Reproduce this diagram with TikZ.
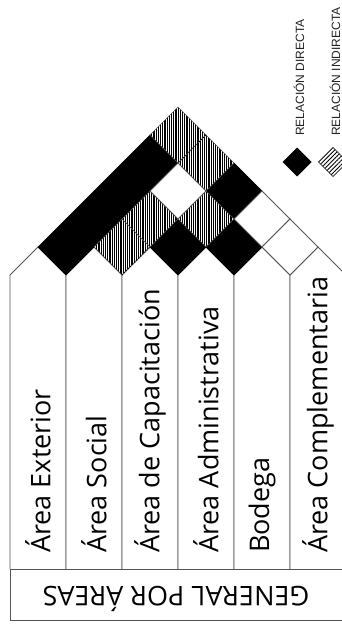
\documentclass[tikz,border=0pt]{standalone}
\usepackage{fontspec}
\setmainfont{Open Sans}
\newfontfamily\legendfont{Liberation Sans}
\usetikzlibrary{patterns.meta}
\definecolor{linegray}{HTML}{555555}
\definecolor{legendgray}{HTML}{222222}
\begin{document}
\begin{tikzpicture}[x=1pt,y=-1pt,
  outline/.style={draw=linegray,line width=0.9pt},
  cellB/.style={fill=black,draw=black,line width=0.6pt},
  cellH/.style={pattern={Lines[angle=90,distance=2.2pt,line width=1.1pt]},draw=linegray,line width=0.6pt},
  cellW/.style={fill=white,draw=linegray,line width=0.9pt},
  area/.style={font=\fontsize{27}{27}\selectfont,rotate=90,anchor=west,inner sep=0pt},
  legendtext/.style={font=\legendfont\fontsize{12}{12}\selectfont,text=legendgray,rotate=90,anchor=west,inner sep=0pt},
  dotline/.style={dotted,line width=0.9pt,black}]
\useasboundingbox (0,0) rectangle (342,629);
\clip (0,0) rectangle (342,629);
\fill[white] (0,0) rectangle (342,629);
% columns
\foreach \k in {1,...,6}{
  \pgfmathsetmacro\xl{10+56*(\k-1)}
  \pgfmathsetmacro\xc{\xl+28}
  \pgfmathsetmacro\xr{\xl+56}
  \path[outline,fill=white] (\xl,569) -- (\xl,275) -- (\xc,247) -- (\xr,275) -- (\xr,569);
}
% cells
\foreach \i/\j in {1/2,1/3,1/4,1/5,3/4,3/6,4/5}{
  \pgfmathsetmacro\cx{28*(\i+\j)-18}
  \pgfmathsetmacro\cy{247-28*(\j-\i-1)}
  \path[cellB] ({\cx-28},\cy) -- (\cx,{\cy-28}) -- ({\cx+28},\cy) -- (\cx,{\cy+28}) -- cycle;
}
\foreach \i/\j in {1/6,2/3,2/4,2/6,3/5}{
  \pgfmathsetmacro\cx{28*(\i+\j)-18}
  \pgfmathsetmacro\cy{247-28*(\j-\i-1)}
  \path[cellH] ({\cx-28},\cy) -- (\cx,{\cy-28}) -- ({\cx+28},\cy) -- (\cx,{\cy+28}) -- cycle;
}
\foreach \i/\j in {2/5,4/6,5/6}{
  \pgfmathsetmacro\cx{28*(\i+\j)-18}
  \pgfmathsetmacro\cy{247-28*(\j-\i-1)}
  \path[cellW] ({\cx-28},\cy) -- (\cx,{\cy-28}) -- ({\cx+28},\cy) -- (\cx,{\cy+28}) -- cycle;
}
\coordinate (d1a) at (122,275); \coordinate (d1b) at (150,247);
\coordinate (d2a) at (206,135); \coordinate (d2b) at (178,163);
\draw[dotline] (d1a) -- (d1b);
\draw[dotline] (d2a) -- (d2b);
% bottom box
\draw[outline] (10,569) rectangle (360,620);
% labels
\node[area] (ext) at (38,553) {Área Exterior};
\node[area] (soc) at (94,553) {Área Social};
\node[area] (cap) at (150,553) {Área de Capacitación};
\node[area] (adm) at (206,553) {Área Administrativa};
\node[area] (bod) at (262,553) {Bodega};
\node[area] (com) at (318,553) {Área Complementaria};
\node[font=\fontsize{27}{27}\selectfont,rotate=180,anchor=base,inner sep=0pt] (title) at (176,586) {GENERAL POR ÁREAS};
% legend
\fill[black] (282.5,162) -- (297,147.5) -- (311.5,162) -- (297,176.5) -- cycle;
\path[pattern={Lines[angle=45,distance=3pt,line width=0.8pt]},draw=black,line width=0.6pt] (318.5,162) -- (333,147.5) -- (347.5,162) -- (333,176.5) -- cycle;
\node[legendtext] (ldir) at (299,136) {RELACIÓN DIRECTA};
\node[legendtext] (lind) at (335,136) {RELACIÓN INDIRECTA};
\end{tikzpicture}
\end{document}
